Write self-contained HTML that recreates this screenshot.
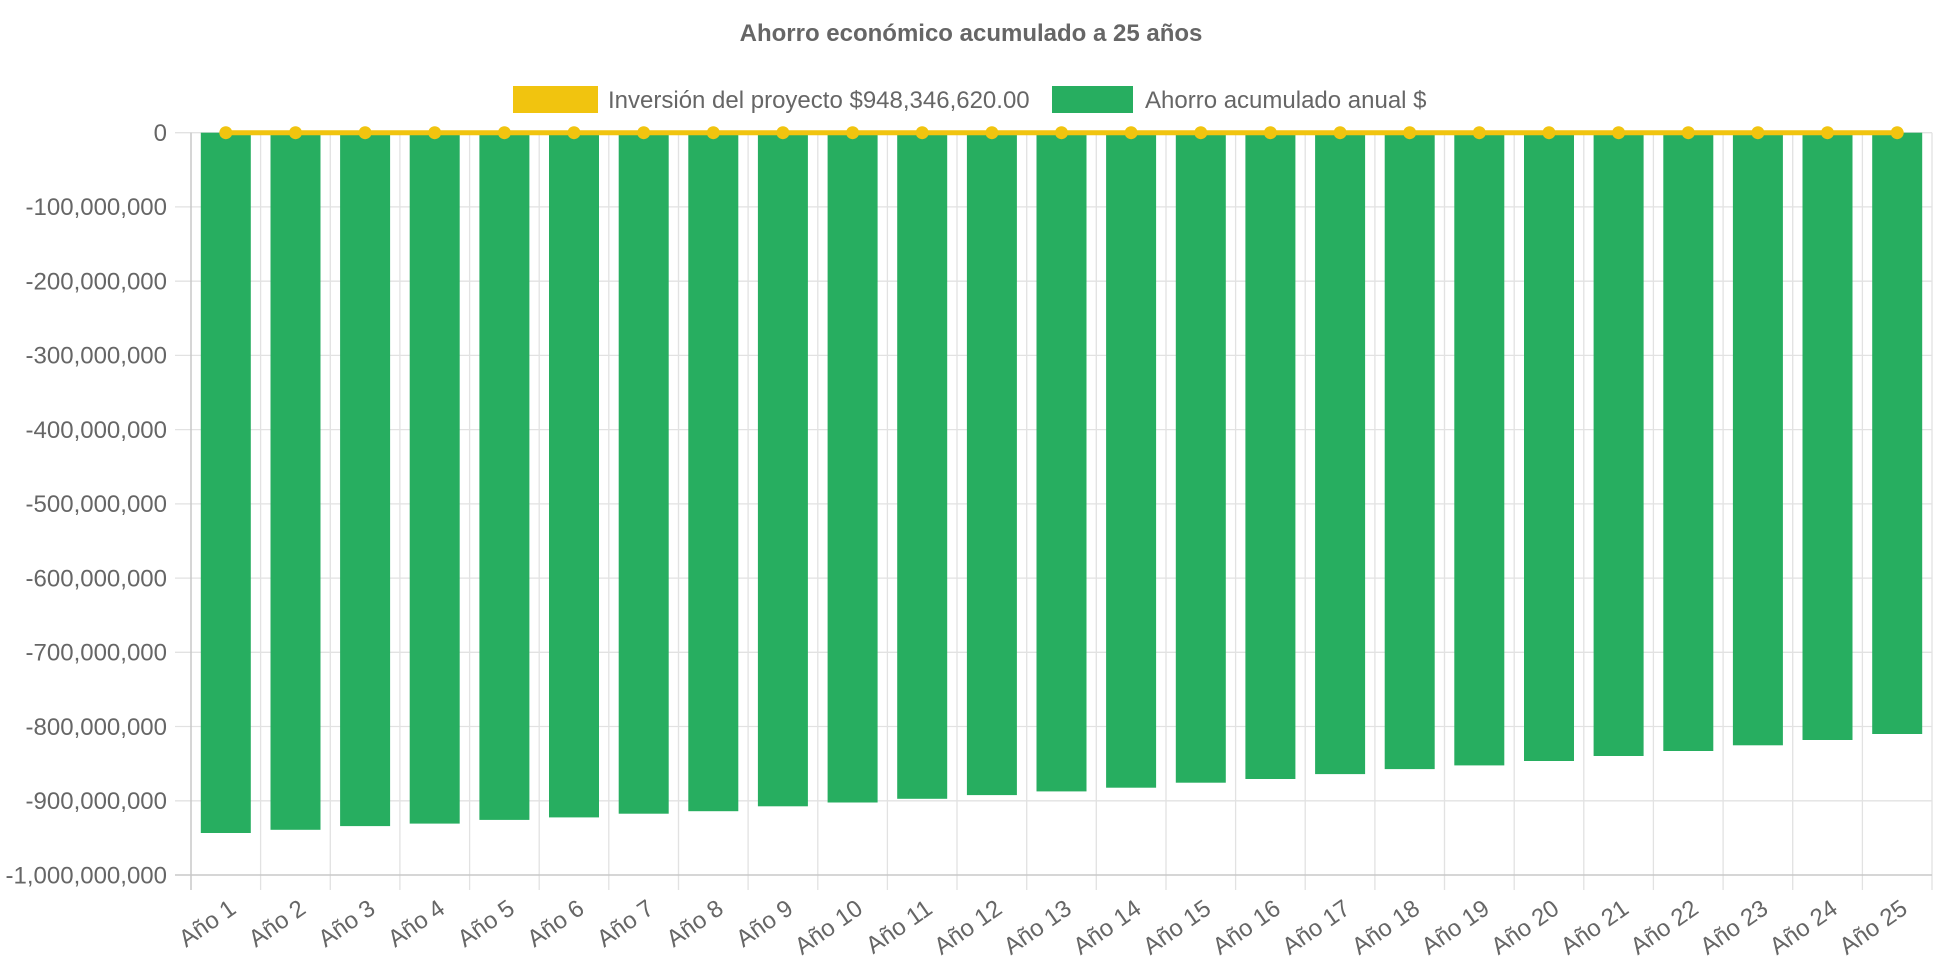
<!DOCTYPE html>
<html><head><meta charset="utf-8"><style>
html,body{margin:0;padding:0;background:#fff;}
svg{display:block;font-family:"Liberation Sans",Arial,sans-serif;}
</style></head><body>
<svg width="1942" height="970" viewBox="0 0 1942 970" xmlns="http://www.w3.org/2000/svg">
<text x="971" y="41" text-anchor="middle" font-size="24" font-weight="bold" fill="#666">Ahorro económico acumulado a 25 años</text>
<rect x="513" y="86" width="85" height="27" fill="#f1c40f"/>
<text x="608" y="108" font-size="24" fill="#666">Inversión del proyecto $948,346,620.00</text>
<rect x="1052" y="86" width="81" height="27" fill="#27ae60"/>
<text x="1145" y="108" font-size="24" fill="#666">Ahorro acumulado anual $</text>

<g stroke="#e2e2e2" stroke-width="1.3">
<path d="M175 132.7H1932M175 206.9H1932M175 281.2H1932M175 355.4H1932M175 429.6H1932M175 503.9H1932M175 578.1H1932M175 652.3H1932M175 726.5H1932M175 800.8H1932"/>
<path d="M260.6 132.7V890M330.3 132.7V890M399.9 132.7V890M469.6 132.7V890M539.2 132.7V890M608.8 132.7V890M678.5 132.7V890M748.1 132.7V890M817.8 132.7V890M887.4 132.7V890M957 132.7V890M1026.7 132.7V890M1096.3 132.7V890M1166 132.7V890M1235.6 132.7V890M1305.2 132.7V890M1374.9 132.7V890M1444.5 132.7V890M1514.2 132.7V890M1583.8 132.7V890M1653.4 132.7V890M1723.1 132.7V890M1792.7 132.7V890M1862.4 132.7V890M1932 132.7V890"/>
</g>
<path d="M175 875H1932M191 132.7V890" stroke="#c8c8c8" stroke-width="1.5"/>

<g fill="#666" font-size="24" text-anchor="end">
<text x="167" y="141">0</text>
<text x="167" y="215.2">-100,000,000</text>
<text x="167" y="289.5">-200,000,000</text>
<text x="167" y="363.7">-300,000,000</text>
<text x="167" y="437.9">-400,000,000</text>
<text x="167" y="512.2">-500,000,000</text>
<text x="167" y="586.4">-600,000,000</text>
<text x="167" y="660.6">-700,000,000</text>
<text x="167" y="734.8">-800,000,000</text>
<text x="167" y="809.1">-900,000,000</text>
<text x="167" y="883.3">-1,000,000,000</text>
</g>

<g fill="#27ae60">
<rect x="200.8" y="132.7" width="50" height="700.3"/>
<rect x="270.5" y="132.7" width="50" height="697.1"/>
<rect x="340.1" y="132.7" width="50" height="693.4"/>
<rect x="409.7" y="132.7" width="50" height="690.9"/>
<rect x="479.4" y="132.7" width="50" height="687.2"/>
<rect x="549.0" y="132.7" width="50" height="684.7"/>
<rect x="618.7" y="132.7" width="50" height="681.0"/>
<rect x="688.3" y="132.7" width="50" height="678.5"/>
<rect x="757.9" y="132.7" width="50" height="673.6"/>
<rect x="827.6" y="132.7" width="50" height="669.8"/>
<rect x="897.2" y="132.7" width="50" height="666.1"/>
<rect x="966.9" y="132.7" width="50" height="662.4"/>
<rect x="1036.5" y="132.7" width="50" height="658.7"/>
<rect x="1106.1" y="132.7" width="50" height="655.0"/>
<rect x="1175.8" y="132.7" width="50" height="650.0"/>
<rect x="1245.4" y="132.7" width="50" height="646.3"/>
<rect x="1315.1" y="132.7" width="50" height="641.4"/>
<rect x="1384.7" y="132.7" width="50" height="636.4"/>
<rect x="1454.3" y="132.7" width="50" height="632.7"/>
<rect x="1524.0" y="132.7" width="50" height="628.3"/>
<rect x="1593.6" y="132.7" width="50" height="623.3"/>
<rect x="1663.3" y="132.7" width="50" height="618.3"/>
<rect x="1732.9" y="132.7" width="50" height="612.6"/>
<rect x="1802.5" y="132.7" width="50" height="607.3"/>
<rect x="1872.2" y="132.7" width="50" height="601.3"/>
</g>

<path d="M225.8 132.7H1897.2" stroke="#f1c40f" stroke-width="5"/>
<g fill="#f1c40f">
<circle cx="225.8" cy="132.7" r="6.5"/><circle cx="295.5" cy="132.7" r="6.5"/><circle cx="365.1" cy="132.7" r="6.5"/><circle cx="434.7" cy="132.7" r="6.5"/><circle cx="504.4" cy="132.7" r="6.5"/><circle cx="574.0" cy="132.7" r="6.5"/><circle cx="643.7" cy="132.7" r="6.5"/><circle cx="713.3" cy="132.7" r="6.5"/><circle cx="782.9" cy="132.7" r="6.5"/><circle cx="852.6" cy="132.7" r="6.5"/><circle cx="922.2" cy="132.7" r="6.5"/><circle cx="991.9" cy="132.7" r="6.5"/><circle cx="1061.5" cy="132.7" r="6.5"/><circle cx="1131.1" cy="132.7" r="6.5"/><circle cx="1200.8" cy="132.7" r="6.5"/><circle cx="1270.4" cy="132.7" r="6.5"/><circle cx="1340.1" cy="132.7" r="6.5"/><circle cx="1409.7" cy="132.7" r="6.5"/><circle cx="1479.3" cy="132.7" r="6.5"/><circle cx="1549.0" cy="132.7" r="6.5"/><circle cx="1618.6" cy="132.7" r="6.5"/><circle cx="1688.3" cy="132.7" r="6.5"/><circle cx="1757.9" cy="132.7" r="6.5"/><circle cx="1827.5" cy="132.7" r="6.5"/><circle cx="1897.2" cy="132.7" r="6.5"/>
</g>

<g fill="#666" font-size="24" text-anchor="end">
<text transform="translate(227.8,898) rotate(-35)" y="17">Año 1</text>
<text transform="translate(297.5,898) rotate(-35)" y="17">Año 2</text>
<text transform="translate(367.1,898) rotate(-35)" y="17">Año 3</text>
<text transform="translate(436.7,898) rotate(-35)" y="17">Año 4</text>
<text transform="translate(506.4,898) rotate(-35)" y="17">Año 5</text>
<text transform="translate(576.0,898) rotate(-35)" y="17">Año 6</text>
<text transform="translate(645.7,898) rotate(-35)" y="17">Año 7</text>
<text transform="translate(715.3,898) rotate(-35)" y="17">Año 8</text>
<text transform="translate(784.9,898) rotate(-35)" y="17">Año 9</text>
<text transform="translate(854.6,898) rotate(-35)" y="17">Año 10</text>
<text transform="translate(924.2,898) rotate(-35)" y="17">Año 11</text>
<text transform="translate(993.9,898) rotate(-35)" y="17">Año 12</text>
<text transform="translate(1063.5,898) rotate(-35)" y="17">Año 13</text>
<text transform="translate(1133.1,898) rotate(-35)" y="17">Año 14</text>
<text transform="translate(1202.8,898) rotate(-35)" y="17">Año 15</text>
<text transform="translate(1272.4,898) rotate(-35)" y="17">Año 16</text>
<text transform="translate(1342.1,898) rotate(-35)" y="17">Año 17</text>
<text transform="translate(1411.7,898) rotate(-35)" y="17">Año 18</text>
<text transform="translate(1481.3,898) rotate(-35)" y="17">Año 19</text>
<text transform="translate(1551.0,898) rotate(-35)" y="17">Año 20</text>
<text transform="translate(1620.6,898) rotate(-35)" y="17">Año 21</text>
<text transform="translate(1690.3,898) rotate(-35)" y="17">Año 22</text>
<text transform="translate(1759.9,898) rotate(-35)" y="17">Año 23</text>
<text transform="translate(1829.5,898) rotate(-35)" y="17">Año 24</text>
<text transform="translate(1899.2,898) rotate(-35)" y="17">Año 25</text>
</g>
</svg>
</body></html>
